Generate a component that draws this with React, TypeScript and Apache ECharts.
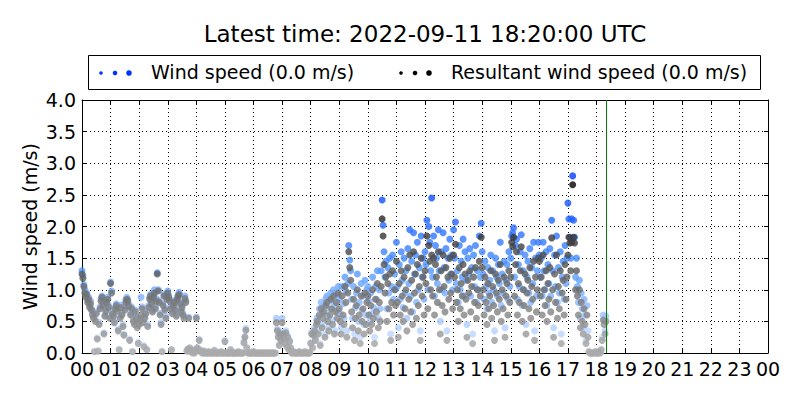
import { useEffect, useRef } from 'react'
import * as echarts from 'echarts'

// one row per hour, one value every 2 minutes (m/s)
const sampleMinutes = 2

const windSpeed: number[][] = [
  [1.3, 1.22, 1.08, 1.0, 0.92, 0.95, 0.84, 0.88, 0.75, 0.82, 0.7, 0.64, 0.58, 0.03, 0.53, 0.65, 0.24, 0.04, 0.48, 0.73, 0.86, 0.9, 0.78, 0.32, 0.6, 0.7, 0.84, 0.88, 0.75, 0.58],
  [1.12, 0.98, 0.65, 0.6, 0.5, 0.73, 0.78, 0.7, 0.38, 0.06, 0.58, 0.76, 0.63, 0.45, 0.3, 0.72, 0.84, 0.88, 0.85, 0.77, 0.22, 0.63, 0.73, 0.03, 0.53, 0.48, 0.68, 0.58, 0.43, 0.17],
  [0.48, 0.55, 0.88, 0.73, 0.5, 0.12, 0.58, 0.65, 0.06, 0.45, 0.75, 0.88, 0.93, 0.81, 0.68, 0.91, 1.0, 0.73, 0.86, 1.27, 1.0, 0.83, 0.63, 0.48, 0.03, 0.78, 0.93, 0.71, 0.58, 0.88],
  [0.98, 0.91, 0.85, 0.73, 0.06, 0.65, 0.78, 0.83, 0.71, 0.61, 0.88, 0.93, 0.96, 0.81, 0.68, 0.75, 0.63, 0.58, 0.9, 0.83, 0.04, 0.07, 0.57, 0.09, 0.03, 0.06, 0.0, 0.05, 0.0, 0.03],
  [0.57, 0.09, 0.07, 0.22, 0.05, 0.03, 0.0, 0.0, 0.04, 0.0, 0.0, 0.0, 0.0, 0.03, 0.0, 0.0, 0.0, 0.0, 0.0, 0.05, 0.0, 0.0, 0.0, 0.0, 0.0, 0.0, 0.03, 0.0, 0.0, 0.0],
  [0.2, 0.0, 0.0, 0.0, 0.0, 0.0, 0.06, 0.0, 0.0, 0.0, 0.0, 0.0, 0.0, 0.0, 0.03, 0.0, 0.0, 0.0, 0.0, 0.0, 0.18, 0.27, 0.39, 0.09, 0.0, 0.0, 0.0, 0.0, 0.0, 0.0],
  [0.03, 0.0, 0.0, 0.0, 0.0, 0.0, 0.0, 0.0, 0.0, 0.0, 0.0, 0.0, 0.0, 0.0, 0.0, 0.0, 0.0, 0.0, 0.0, 0.0, 0.0, 0.0, 0.0, 0.0, 0.55, 0.38, 0.27, 0.14, 0.33, 0.22],
  [0.55, 0.33, 0.24, 0.17, 0.35, 0.12, 0.27, 0.06, 0.2, 0.09, 0.0, 0.0, 0.03, 0.0, 0.0, 0.0, 0.0, 0.0, 0.03, 0.0, 0.0, 0.0, 0.0, 0.0, 0.03, 0.0, 0.0, 0.0, 0.0, 0.0],
  [0.17, 0.33, 0.1, 0.32, 0.4, 0.24, 0.52, 0.56, 0.36, 0.7, 0.15, 0.8, 0.46, 0.62, 0.76, 0.3, 0.86, 0.9, 0.58, 0.42, 0.7, 0.95, 0.82, 0.52, 1.0, 0.36, 0.75, 0.92, 0.64, 1.05],
  [0.85, 0.62, 0.4, 1.05, 0.78, 0.55, 1.2, 0.98, 0.35, 1.1, 1.7, 1.47, 1.3, 0.85, 0.55, 1.05, 0.3, 0.72, 0.95, 1.25, 0.5, 0.8, 0.25, 1.1, 0.68, 0.9, 0.45, 1.15, 0.6, 1.0],
  [1.05, 0.82, 0.5, 0.95, 0.62, 1.2, 0.72, 0.25, 1.05, 0.85, 1.3, 0.55, 1.0, 0.7, 1.3, 2.42, 2.02, 1.6, 1.2, 1.45, 0.7, 1.35, 0.95, 1.5, 0.3, 1.05, 1.55, 0.85, 1.25, 1.0],
  [1.75, 1.05, 0.4, 1.4, 0.85, 1.6, 1.15, 0.72, 1.5, 0.95, 1.3, 0.55, 1.65, 1.1, 1.95, 0.9, 1.45, 0.65, 1.9, 1.25, 1.55, 0.8, 1.75, 1.0, 1.35, 0.35, 1.85, 1.2, 1.5, 0.85],
  [1.6, 1.4, 2.1, 1.0, 2.0, 1.75, 1.3, 2.45, 1.2, 1.85, 0.9, 1.7, 1.5, 1.1, 1.95, 1.3, 0.5, 1.6, 1.0, 1.9, 1.35, 0.95, 1.65, 0.35, 1.5, 1.15, 1.8, 1.25, 1.55, 1.0],
  [1.95, 1.5, 2.07, 1.1, 1.3, 0.8, 1.7, 1.0, 1.45, 1.2, 1.8, 0.9, 1.6, 1.15, 0.45, 1.5, 1.25, 1.65, 0.9, 1.35, 0.3, 1.55, 1.05, 1.7, 0.8, 1.3, 1.0, 1.85, 1.2, 2.05],
  [1.6, 1.25, 0.85, 1.45, 1.05, 0.7, 1.35, 0.95, 1.15, 1.55, 0.8, 1.3, 1.0, 0.35, 1.5, 1.2, 0.9, 1.4, 1.1, 1.75, 0.75, 1.25, 0.95, 1.45, 0.4, 1.15, 1.4, 0.85, 1.6, 1.05],
  [1.5, 1.85, 1.9, 1.98, 1.2, 1.7, 1.8, 0.85, 1.4, 1.05, 1.6, 1.87, 0.75, 1.3, 1.0, 1.55, 0.45, 1.2, 1.45, 0.95, 1.65, 0.8, 1.35, 1.1, 1.75, 0.35, 1.5, 0.9, 1.3, 1.75],
  [1.55, 1.2, 1.5, 0.9, 1.75, 1.3, 1.0, 1.6, 0.75, 1.4, 1.1, 1.65, 0.9, 2.1, 1.3, 0.4, 1.55, 1.05, 1.85, 0.8, 1.35, 0.95, 1.6, 0.3, 1.2, 1.45, 0.85, 1.7, 1.1, 1.5],
  [2.37, 2.12, 1.83, 1.5, 2.12, 2.8, 2.1, 1.83, 1.2, 1.5, 1.05, 0.8, 1.15, 0.55, 0.95, 0.7, 0.4, 0.85, 0.6, 0.2, 0.75, 0.35, 0.03, 0.0, 0.0, 0.0, 0.0, 0.0, 0.0, 0.03],
  [0.0, 0.0, 0.0, 0.03, 0.0, 0.06, 0.25, 0.6, 0.52, 0.35, 0.58]
]

const resultantSpeed: number[][] = [
  [1.25, 1.18, 1.05, 0.95, 0.88, 0.92, 0.8, 0.85, 0.72, 0.78, 0.68, 0.6, 0.55, 0.02, 0.5, 0.62, 0.22, 0.03, 0.45, 0.7, 0.82, 0.88, 0.75, 0.3, 0.58, 0.66, 0.8, 0.85, 0.72, 0.55],
  [1.1, 0.95, 0.62, 0.58, 0.48, 0.7, 0.75, 0.66, 0.35, 0.05, 0.55, 0.72, 0.6, 0.42, 0.28, 0.68, 0.8, 0.85, 0.82, 0.74, 0.2, 0.6, 0.7, 0.02, 0.5, 0.45, 0.65, 0.55, 0.4, 0.15],
  [0.45, 0.52, 0.6, 0.7, 0.48, 0.1, 0.55, 0.62, 0.05, 0.42, 0.72, 0.85, 0.9, 0.78, 0.65, 0.88, 0.95, 0.7, 0.82, 1.25, 0.98, 0.8, 0.6, 0.45, 0.02, 0.75, 0.9, 0.68, 0.55, 0.85],
  [0.95, 0.88, 0.82, 0.7, 0.05, 0.62, 0.75, 0.8, 0.68, 0.58, 0.85, 0.9, 0.92, 0.78, 0.65, 0.72, 0.6, 0.55, 0.86, 0.8, 0.03, 0.06, 0.55, 0.08, 0.02, 0.05, 0.0, 0.04, 0.0, 0.02],
  [0.55, 0.08, 0.06, 0.2, 0.04, 0.02, 0.0, 0.0, 0.03, 0.0, 0.0, 0.0, 0.0, 0.02, 0.0, 0.0, 0.0, 0.0, 0.0, 0.04, 0.0, 0.0, 0.0, 0.0, 0.0, 0.0, 0.02, 0.0, 0.0, 0.0],
  [0.18, 0.0, 0.0, 0.0, 0.0, 0.0, 0.05, 0.0, 0.0, 0.0, 0.0, 0.0, 0.0, 0.0, 0.02, 0.0, 0.0, 0.0, 0.0, 0.0, 0.16, 0.25, 0.36, 0.08, 0.0, 0.0, 0.0, 0.0, 0.0, 0.0],
  [0.02, 0.0, 0.0, 0.0, 0.0, 0.0, 0.0, 0.0, 0.0, 0.0, 0.0, 0.0, 0.0, 0.0, 0.0, 0.0, 0.0, 0.0, 0.0, 0.0, 0.0, 0.0, 0.0, 0.0, 0.48, 0.35, 0.25, 0.12, 0.3, 0.2],
  [0.48, 0.3, 0.22, 0.15, 0.32, 0.1, 0.25, 0.05, 0.18, 0.08, 0.0, 0.0, 0.02, 0.0, 0.0, 0.0, 0.0, 0.0, 0.02, 0.0, 0.0, 0.0, 0.0, 0.0, 0.02, 0.0, 0.0, 0.0, 0.0, 0.0],
  [0.15, 0.3, 0.08, 0.28, 0.35, 0.2, 0.45, 0.5, 0.3, 0.6, 0.12, 0.7, 0.4, 0.55, 0.65, 0.25, 0.75, 0.8, 0.5, 0.35, 0.6, 0.85, 0.7, 0.45, 0.9, 0.3, 0.65, 0.8, 0.55, 0.95],
  [0.7, 0.5, 0.3, 0.9, 0.6, 0.45, 1.05, 0.8, 0.25, 0.95, 1.6, 1.35, 1.15, 0.65, 0.4, 0.85, 0.2, 0.55, 0.75, 1.0, 0.35, 0.6, 0.15, 0.9, 0.5, 0.7, 0.3, 0.95, 0.45, 0.8],
  [0.9, 0.6, 0.35, 0.75, 0.45, 1.0, 0.55, 0.15, 0.85, 0.65, 1.1, 0.4, 0.8, 0.5, 1.05, 2.12, 1.85, 1.4, 0.95, 1.2, 0.5, 1.1, 0.7, 1.25, 0.2, 0.8, 1.3, 0.6, 1.0, 0.75],
  [1.45, 0.8, 0.25, 1.1, 0.6, 1.3, 0.9, 0.5, 1.2, 0.7, 1.0, 0.35, 1.35, 0.85, 1.55, 0.65, 1.15, 0.45, 1.6, 0.95, 1.25, 0.55, 1.4, 0.75, 1.05, 0.2, 1.5, 0.9, 1.2, 0.6],
  [1.3, 1.1, 1.85, 0.7, 1.7, 1.45, 1.0, 1.55, 0.9, 1.5, 0.6, 1.4, 1.2, 0.8, 1.6, 1.0, 0.3, 1.3, 0.75, 1.55, 1.05, 0.65, 1.35, 0.2, 1.2, 0.85, 1.5, 0.95, 1.25, 0.7],
  [1.55, 1.2, 1.72, 0.8, 1.0, 0.5, 1.35, 0.7, 1.1, 0.9, 1.4, 0.6, 1.25, 0.85, 0.25, 1.15, 0.95, 1.3, 0.65, 1.05, 0.15, 1.2, 0.8, 1.35, 0.55, 1.0, 0.75, 1.45, 0.9, 1.83],
  [1.35, 1.0, 0.6, 1.2, 0.8, 0.45, 1.1, 0.7, 0.9, 1.3, 0.55, 1.05, 0.75, 0.2, 1.25, 0.95, 0.65, 1.15, 0.85, 1.4, 0.5, 1.0, 0.7, 1.2, 0.25, 0.9, 1.1, 0.6, 1.3, 0.8],
  [1.2, 1.75, 1.68, 1.83, 0.9, 1.4, 1.6, 0.6, 1.1, 0.8, 1.3, 1.68, 0.5, 1.0, 0.75, 1.25, 0.3, 0.95, 1.15, 0.7, 1.35, 0.55, 1.05, 0.85, 1.45, 0.2, 1.2, 0.65, 1.0, 1.5],
  [1.45, 0.9, 1.2, 0.6, 1.55, 1.0, 0.75, 1.3, 0.5, 1.1, 0.85, 1.35, 0.65, 1.82, 1.0, 0.25, 1.25, 0.8, 1.55, 0.55, 1.05, 0.7, 1.3, 0.15, 0.95, 1.15, 0.6, 1.4, 0.85, 1.2],
  [1.55, 1.83, 1.74, 1.3, 1.75, 2.66, 1.83, 1.74, 1.0, 1.3, 0.9, 0.6, 1.0, 0.4, 0.8, 0.5, 0.3, 0.7, 0.45, 0.15, 0.6, 0.25, 0.02, 0.0, 0.0, 0.0, 0.0, 0.0, 0.0, 0.02],
  [0.0, 0.0, 0.0, 0.02, 0.0, 0.05, 0.2, 0.52, 0.45, 0.3, 0.5]
]

const titleText = 'Latest time: 2022-09-11 18:20:00 UTC'
const windLabel = 'Wind speed (0.0 m/s)'
const resultantLabel = 'Resultant wind speed (0.0 m/s)'
const latestHour = 18 + 20 / 60

const font = 'DejaVu Sans, sans-serif'

const toPoints = (rows: number[][]) =>
  rows.flatMap((row, h) => row.map((v, i) => [h + (i * sampleMinutes) / 60, v]))

const dots = (x: number, color: string) =>
  [0, 1, 2].map((k) => ({
    type: 'circle',
    shape: { cx: x + k * 14, cy: 73, r: 1.8 + k * 0.5 },
    style: { fill: color }
  }))

const App = () => {
  const chartRef = useRef<HTMLDivElement>(null)

  useEffect(() => {
    if (!chartRef.current) return
    document.body.style.margin = '0'
    const chart = echarts.init(chartRef.current, undefined, { renderer: 'svg' })

    const hourLabel = (v: number) => String(v % 24).padStart(2, '0')
    const axisLine = { show: true, onZero: false, lineStyle: { color: '#000', width: 1 } }
    const axisTick = { show: true, inside: true, length: 4, lineStyle: { color: '#000' } }
    const gridLine = { show: true, lineStyle: { color: '#000', type: [1, 3], width: 1 } }
    const xBase = { type: 'value', min: 0, max: 24, interval: 1, axisLine, axisTick }
    const yBase = { type: 'value', min: 0, max: 4, interval: 0.5, axisLine, axisTick }

    chart.setOption({
      animation: false,
      textStyle: { fontFamily: font },
      grid: { left: 82, right: 32, top: 100, bottom: 47 },
      visualMap: [
        {
          type: 'continuous',
          show: false,
          seriesIndex: 0,
          dimension: 1,
          min: 0,
          max: 2.7,
          inRange: { color: ['#dce9ff', '#4d94ff', '#0040ff'] }
        },
        {
          type: 'continuous',
          show: false,
          seriesIndex: 1,
          dimension: 1,
          min: 0,
          max: 2.7,
          inRange: { color: ['#ababab', '#000000'] }
        }
      ],
      xAxis: [
        {
          ...xBase,
          position: 'bottom',
          axisLabel: {
            color: '#000',
            fontSize: 19,
            fontFamily: font,
            margin: 6,
            showMinLabel: true,
            showMaxLabel: true,
            formatter: hourLabel
          },
          splitLine: gridLine
        },
        { ...xBase, position: 'top', axisLabel: { show: false }, splitLine: { show: false } }
      ],
      yAxis: [
        {
          ...yBase,
          position: 'left',
          name: 'Wind speed (m/s)',
          nameLocation: 'middle',
          nameGap: 43,
          nameMoveOverlap: false,
          nameTextStyle: { color: '#000', fontSize: 19, fontFamily: font },
          axisLabel: {
            color: '#000',
            fontSize: 19,
            fontFamily: font,
            margin: 6,
            formatter: (v: number) => v.toFixed(1)
          },
          splitLine: gridLine
        },
        { ...yBase, position: 'right', axisLabel: { show: false }, splitLine: { show: false } }
      ],
      series: [
        {
          name: windLabel,
          type: 'scatter',
          symbolSize: 7,
          data: toPoints(windSpeed),
          markLine: {
            silent: true,
            symbol: 'none',
            label: { show: false },
            lineStyle: { color: '#008000', width: 1, type: 'solid' },
            data: [{ xAxis: latestHour }]
          }
        },
        {
          name: resultantLabel,
          type: 'scatter',
          symbolSize: 7,
          data: toPoints(resultantSpeed)
        }
      ],
      graphic: [
        // hides the part of the zero-value markers that falls below the plot box
        {
          type: 'rect',
          shape: { x: 80, y: 354, width: 690, height: 4 },
          style: { fill: '#fff' },
          silent: true
        },
        {
          type: 'text',
          x: 425,
          y: 34,
          style: {
            text: titleText,
            fontSize: 23,
            fontFamily: font,
            fill: '#000',
            align: 'center',
            verticalAlign: 'middle'
          }
        },
        {
          type: 'rect',
          shape: { x: 88.5, y: 55.5, width: 672, height: 34 },
          style: { fill: '#fff', stroke: '#000', lineWidth: 1 }
        },
        ...dots(101, '#0033ff'),
        {
          type: 'text',
          x: 151,
          y: 72,
          style: { text: windLabel, fontSize: 19, fontFamily: font, fill: '#000', verticalAlign: 'middle' }
        },
        ...dots(401, '#000'),
        {
          type: 'text',
          x: 451,
          y: 72,
          style: { text: resultantLabel, fontSize: 19, fontFamily: font, fill: '#000', verticalAlign: 'middle' }
        }
      ]
    })

    return () => chart.dispose()
  }, [])

  return <div ref={chartRef} style={{ width: 800, height: 400 }} />
}

export default App
